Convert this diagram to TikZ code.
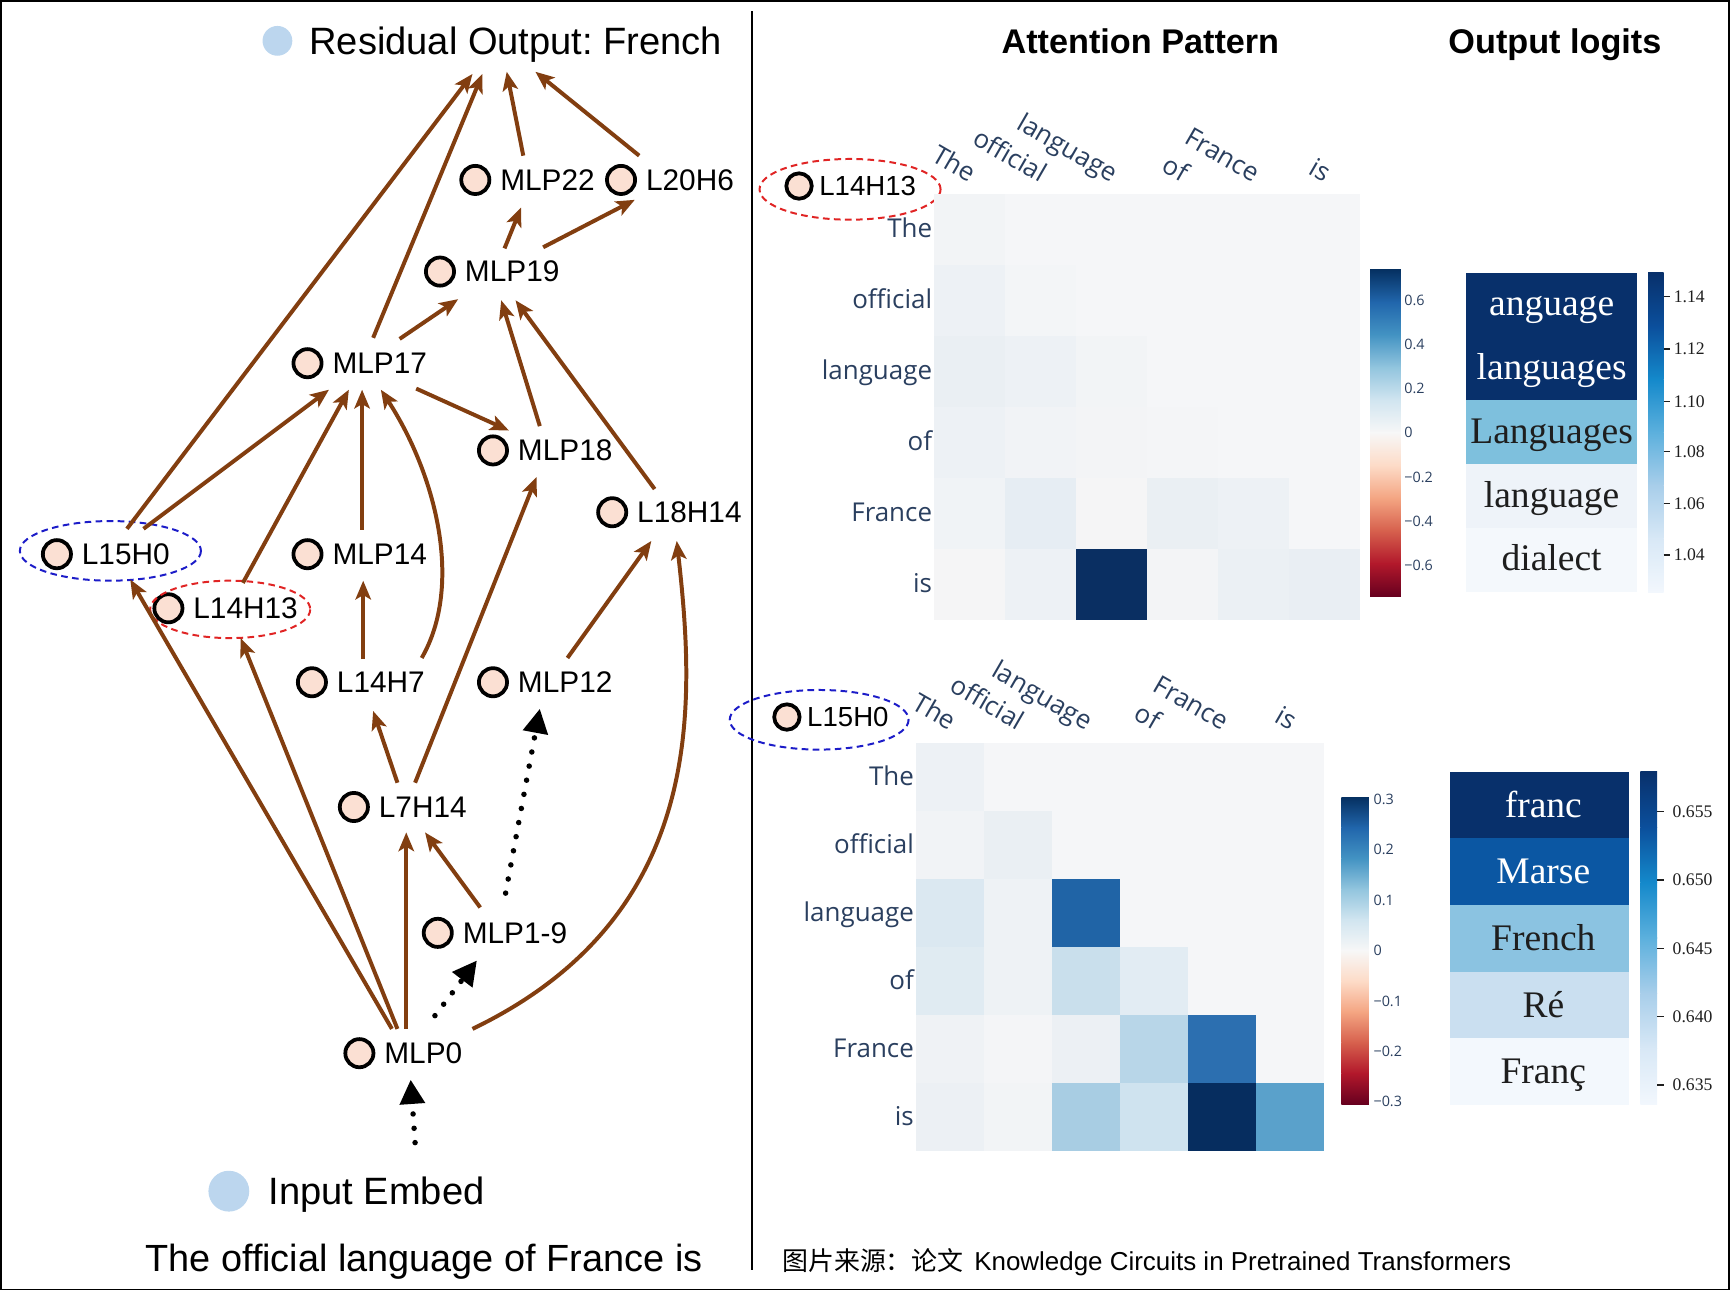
\documentclass[tikz,border=0pt]{standalone}
\usepackage{fontspec}
\setmainfont{Liberation Sans}
\newfontfamily\plotfont{Open Sans}
\newfontfamily\seriffont{Liberation Serif}
\newfontfamily\cjkfont{Noto Sans CJK SC}
\usetikzlibrary{arrows.meta}
\frenchspacing

\definecolor{edgebrown}{RGB}{130,62,16}
\definecolor{nodefill}{HTML}{FBE0D3}
\definecolor{legendblue}{HTML}{BCD6EE}
\definecolor{plotgrey}{HTML}{F5F6F8}
\definecolor{axisink}{HTML}{2A3F5F}
\definecolor{ink}{HTML}{1E1E1E}
\definecolor{ringblue}{HTML}{1C1CC8}
\definecolor{ringred}{HTML}{E02424}
\definecolor{rdbu0}{HTML}{053061}
\definecolor{rdbu1}{HTML}{2166AC}
\definecolor{rdbu2}{HTML}{4393C3}
\definecolor{rdbu3}{HTML}{92C5DE}
\definecolor{rdbu4}{HTML}{D1E5F0}
\definecolor{rdbu5}{HTML}{F7F7F7}
\definecolor{rdbu6}{HTML}{FDDBC7}
\definecolor{rdbu7}{HTML}{F4A582}
\definecolor{rdbu8}{HTML}{D6604D}
\definecolor{rdbu9}{HTML}{B2182B}
\definecolor{rdbu10}{HTML}{67001F}
\definecolor{blu0}{HTML}{08306B}
\definecolor{blu1}{HTML}{0B4F9C}
\definecolor{blu2}{HTML}{1489CB}
\definecolor{blu3}{HTML}{5CB0DD}
\definecolor{blu4}{HTML}{A8CEEA}
\definecolor{blu5}{HTML}{D8E8F6}
\definecolor{blu6}{HTML}{F2F7FD}

\begin{document}
\begin{tikzpicture}[
    x=1pt, y=-1pt,
    comp/.style={
      anchor=west, inner sep=0pt, text depth=0pt,
      font=\fontsize{27}{32}\selectfont,
      label={[headdot, label distance=8pt]left:{}}
    },
    tag/.style={
      anchor=west, inner sep=0pt, text depth=0pt,
      font=\fontsize{25}{30}\selectfont,
      label={[headdot, minimum size=23pt, label distance=5pt]left:{}}
    },
    headdot/.style={
      circle, draw, line width=3.4pt, fill=nodefill,
      minimum size=25.5pt, inner sep=0pt
    },
    legend/.style={
      anchor=west, inner sep=0pt, text depth=0pt,
      font=\fontsize{34.5}{40}\selectfont
    },
    legdot/.style={circle, fill=legendblue, inner sep=0pt},
    wire/.style={
      draw=edgebrown, line width=3.6pt,
      -{Stealth[length=17pt, width=14pt, inset=4pt]}
    },
    hop/.style={
      line width=5pt, dash pattern=on 0pt off 13pt, line cap=round,
      -{Triangle[length=22pt, width=22pt]}
    },
    ring/.style={line width=1.8pt, dash pattern=on 6pt off 4pt},
    axislab/.style={inner sep=0pt, text=axisink, font=\plotfont\fontsize{23.5}{28}\selectfont},
    barnum/.style={anchor=west, inner sep=0pt, text depth=0pt, text=axisink,
      font=\plotfont\fontsize{13}{16}\selectfont},
    logit/.style={anchor=base, inner sep=0pt, font=\seriffont\fontsize{34}{40}\selectfont},
    lognum/.style={anchor=west, inner sep=0pt, text depth=0pt, text=ink,
      font=\seriffont\fontsize{16}{20}\selectfont},
    head/.style={inner sep=0pt, text depth=0pt, font=\bfseries\fontsize{31}{36}\selectfont}
  ]
  \useasboundingbox (0,0) rectangle (1568,1175);
  \draw[line width=1.5pt] (1,1) rectangle (1566,1168);
  \draw[line width=1.5pt] (681,10) -- (681,1150);

  % circuit
  \node[legend, label={[legdot, minimum size=27pt, label distance=15pt]left:{}}] (res) at (280,37) {Residual Output: French};
  \node[comp] (mlp22) at (453,163) {MLP22};
  \node[comp] (l20h6) at (585,163) {L20H6};
  \node[comp] (mlp19) at (421,246) {MLP19};
  \node[comp] (mlp17) at (301,329) {MLP17};
  \node[comp] (mlp18) at (469,408) {MLP18};
  \node[comp] (l18h14) at (577,464) {L18H14};
  \node[comp] (l15h0) at (74,502) {L15H0};
  \node[comp] (mlp14) at (301,502) {MLP14};
  \node[comp] (l14h13) at (175,551) {L14H13};
  \node[comp] (l14h7) at (305,618) {L14H7};
  \node[comp] (mlp12) at (469,618) {MLP12};
  \node[comp] (l7h14) at (343,731) {L7H14};
  \node[comp] (mlp1to9) at (419,845) {MLP1-9};
  \node[comp] (mlp0) at (348,954) {MLP0};
  \node[legend, label={[legdot, minimum size=37pt, label distance=17pt]left:{}}] (embed) at (243,1079) {Input Embed};
  \node[anchor=base, font=\fontsize{34.3}{40}\selectfont] (prompt) at (384,1152) {The official language of France is};

  \draw[ring, draw=ringblue] ([shift={(26,-3)}]l15h0.west) ellipse [x radius=82, y radius=27];
  \draw[ring, draw=ringred] ([shift={(33.5,1)}]l14h13.west) ellipse [x radius=72.5, y radius=26];

  \draw[wire] ([shift={(41,-23)}]l15h0.west) -- ([shift={(148,30)}]res.west);
  \draw[wire] ([shift={(37,-23)}]mlp17.west) -- ([shift={(157,30)}]res.west);
  \draw[wire] ([shift={(21,-22)}]mlp22.west) -- ([shift={(179,28)}]res.west);
  \draw[wire] ([shift={(-6,-22)}]l20h6.west) -- ([shift={(205,28)}]res.west);
  \draw[wire] ([shift={(36,-21)}]mlp19.west) -- ([shift={(19,25)}]mlp22.west);
  \draw[wire] ([shift={(71,-22)}]mlp19.west) -- ([shift={(-10,18)}]l20h6.west);
  \draw[wire] ([shift={(61,-22)}]mlp17.west) -- ([shift={(-6,25)}]mlp19.west);
  \draw[wire] ([shift={(76,23)}]mlp17.west) -- ([shift={(-8,-18)}]mlp18.west);
  \draw[wire] ([shift={(20,-22)}]mlp18.west) -- ([shift={(33,26)}]mlp19.west);
  \draw[wire] ([shift={(16,-21)}]l18h14.west) -- ([shift={(46,26)}]mlp19.west);
  \draw[wire] ([shift={(56,-23)}]l15h0.west) -- ([shift={(-3,24)}]mlp17.west);
  \draw[wire] ([shift={(45,-23)}]l14h13.west) -- ([shift={(15,24)}]mlp17.west);
  \draw[wire] ([shift={(27,-22)}]mlp14.west) -- ([shift={(27,24)}]mlp17.west);
  \draw[wire] ([shift={(77,-22)}]l14h7.west) .. controls (420,530) and (395,430) .. ([shift={(44,24)}]mlp17.west);
  \draw[wire] ([shift={(24,-21)}]l14h7.west) -- ([shift={(28,24)}]mlp14.west);
  \draw[wire] ([shift={(33,-22)}]l7h14.west) -- ([shift={(17,24)}]mlp18.west);
  \draw[wire] ([shift={(17,-22)}]l7h14.west) -- ([shift={(33,26)}]l14h7.west);
  \draw[wire] ([shift={(45,-22)}]mlp12.west) -- ([shift={(13,26)}]l18h14.west);
  \draw[wire] ([shift={(7,-22)}]mlp0.west) -- ([shift={(44,23)}]l15h0.west);
  \draw[wire] ([shift={(12,-22)}]mlp0.west) -- ([shift={(43,27)}]l14h13.west);
  \draw[wire] ([shift={(20,-22)}]mlp0.west) -- ([shift={(25,23)}]l7h14.west);
  \draw[wire] ([shift={(16,-23)}]mlp1to9.west) -- ([shift={(42,23)}]l7h14.west);
  \draw[wire] ([shift={(80,-22)}]mlp0.west) .. controls (640,830) and (630,640) .. ([shift={(36,26)}]l18h14.west);
  \draw[hop] ([shift={(46,-34)}]mlp0.west) -- ([shift={(13,25)}]mlp1to9.west);
  \draw[hop] ([shift={(39,-36)}]mlp1to9.west) -- ([shift={(20,24)}]mlp12.west);
  \draw[hop] ([shift={(133,-44)}]embed.west) -- ([shift={(24,24)}]mlp0.west);

  % headings
  \node[head] (attnhead) at (1033,37) {Attention Pattern};
  \node[head] (logithead) at (1408.5,37) {Output logits};

  % L14H13 attention
  \node[tag] (l14h13r) at (742,168.5) {L14H13};
  \draw[ring, draw=ringred] ([shift={(28,3)}]l14h13r.west) ellipse [x radius=82, y radius=27.5];
  \fill[plotgrey] (846,175.4) rectangle (1231.7,561);
  \foreach \r/\c/\hx in {0/0/F2F4F6, 1/0/EDF1F5, 1/1/F3F5F7, 2/0/EAEFF3, 2/1/EDF1F5, 2/2/F2F4F6,
      3/0/EDF1F5, 3/1/F1F3F6, 3/2/F3F4F6, 3/3/F4F5F7, 4/0/F0F3F6, 4/1/E6EDF3, 4/2/F5F5F6,
      4/3/EAEFF3, 4/4/EDF1F5, 5/0/F5F5F6, 5/1/EDF1F5, 5/2/0A2F62, 5/3/F3F4F6, 5/4/EBF0F4, 5/5/E9EEF3}{
    \definecolor{cellc}{HTML}{\hx}
    \fill[cellc] (846+\c*64.3,175.4+\r*64.3) rectangle ++(64.3,64.3);
  }
  \foreach \w [count=\i from 0] in {The,official,language,of,France,is}{
    \node[axislab, anchor=base east] (toprow\i) at (844.5,215+\i*64.3) {\w};
    \node[axislab, anchor=base east, rotate=-30] (topcol\i) at (878+\i*64.3,166) {\w};
  }
  \foreach \i [evaluate=\i as \j using int(\i+1)] in {0,...,9}
    \shade[top color=rdbu\i, bottom color=rdbu\j] (1241,244+\i*29.6) rectangle ++(28,29.8);
  \foreach \v [count=\k from 0] in {0.6,0.4,0.2,0,−0.2,−0.4,−0.6}
    \node[barnum] (topbar\k) at (1272,272+\k*40) {\v};

  \foreach \w/\hx/\tc [count=\i from 0] in {anguage/08306B/white, languages/08306B/white,
      Languages/7EC0DD/ink, language/EEF3F9/ink, dialect/F4F8FC/ink}{
    \definecolor{boxc}{HTML}{\hx}
    \fill[boxc] (1328,247+\i*57.8) rectangle ++(155,58);
    \node[logit, text=\tc] (toplogit\i) at (1405.5,285.9+\i*57.8) {\w};
  }
  \foreach \i [evaluate=\i as \j using int(\i+1)] in {0,...,5}
    \shade[top color=blu\i, bottom color=blu\j] (1493,247+\i*48.17) rectangle ++(14,48.4);
  \foreach \v/\y [count=\k] in {1.14/268.7, 1.12/316.1, 1.10/363.8, 1.08/409.1, 1.06/455.9, 1.04/502.7}{
    \draw[line width=1pt, ink] (1507,\y) -- (1512.5,\y);
    \node[lognum] (toptick\k) at (1516,\y) {\v};
  }

  % L15H0 attention
  \node[tag] (l15h0r) at (731,649.5) {L15H0};
  \draw[ring, draw=ringblue] ([shift={(11,2.5)}]l15h0r.west) ellipse [x radius=81, y radius=27];
  \fill[plotgrey] (829.4,672.9) rectangle (1199.5,1042.3);
  \foreach \r/\c/\hx in {0/0/EDF1F5, 1/0/F1F3F6, 1/1/EAEFF3, 2/0/DBE8F1, 2/1/EEF2F5, 2/2/2064A6,
      3/0/E0EBF2, 3/1/EEF2F5, 3/2/C9DFEC, 3/3/E2ECF3, 4/0/EFF2F5, 4/1/F4F5F7, 4/2/ECF0F4,
      4/3/B8D6E8, 4/4/2C6FB0, 5/0/ECF0F4, 5/1/F2F4F6, 5/2/A8CDE3, 5/3/CFE3EF, 5/4/062D5F, 5/5/5AA1CB}{
    \definecolor{cellc}{HTML}{\hx}
    \fill[cellc] (829.4+\c*61.68,672.9+\r*61.68) rectangle ++(61.68,61.68);
  }
  \foreach \w [count=\i from 0] in {The,official,language,of,France,is}{
    \node[axislab, anchor=base east] (botrow\i) at (828,711.2+\i*61.68) {\w};
    \node[axislab, anchor=base east, rotate=-30] (botcol\i) at (860.2+\i*61.68,662) {\w};
  }
  \foreach \i [evaluate=\i as \j using int(\i+1)] in {0,...,9}
    \shade[top color=rdbu\i, bottom color=rdbu\j] (1215,722+\i*27.8) rectangle ++(25,28);
  \foreach \v [count=\k from 0] in {0.3,0.2,0.1,0,−0.1,−0.2,−0.3}
    \node[barnum] (botbar\k) at (1244,724+\k*45.67) {\v};

  \foreach \w/\hx/\tc [count=\i from 0] in {franc/08306B/white, Marse/0B57A3/white,
      French/8BC3E1/ink, Ré/CADFF0/ink, Franç/F3F8FD/ink}{
    \definecolor{boxc}{HTML}{\hx}
    \fill[boxc] (1313,699+\i*60.4) rectangle ++(163,60.6);
    \node[logit, text=\tc] (botlogit\i) at (1398,740.2+\i*60.4) {\w};
  }
  \foreach \i [evaluate=\i as \j using int(\i+1)] in {0,...,5}
    \shade[top color=blu\i, bottom color=blu\j] (1486,699+\i*50.17) rectangle ++(15,50.4);
  \foreach \v/\y [count=\k] in {0.655/735.2, 0.650/797.1, 0.645/859, 0.640/920.9, 0.635/982.8}{
    \draw[line width=1pt, ink] (1501,\y) -- (1507,\y);
    \node[lognum] (bottick\k) at (1515,\y) {\v};
  }

  \node[anchor=base west, font=\fontsize{23.5}{28}\selectfont] (source) at (705,1151)
    {\makebox[174pt][l]{\cjkfont 图片来源：论文}Knowledge Circuits in Pretrained Transformers};
\end{tikzpicture}
\end{document}
